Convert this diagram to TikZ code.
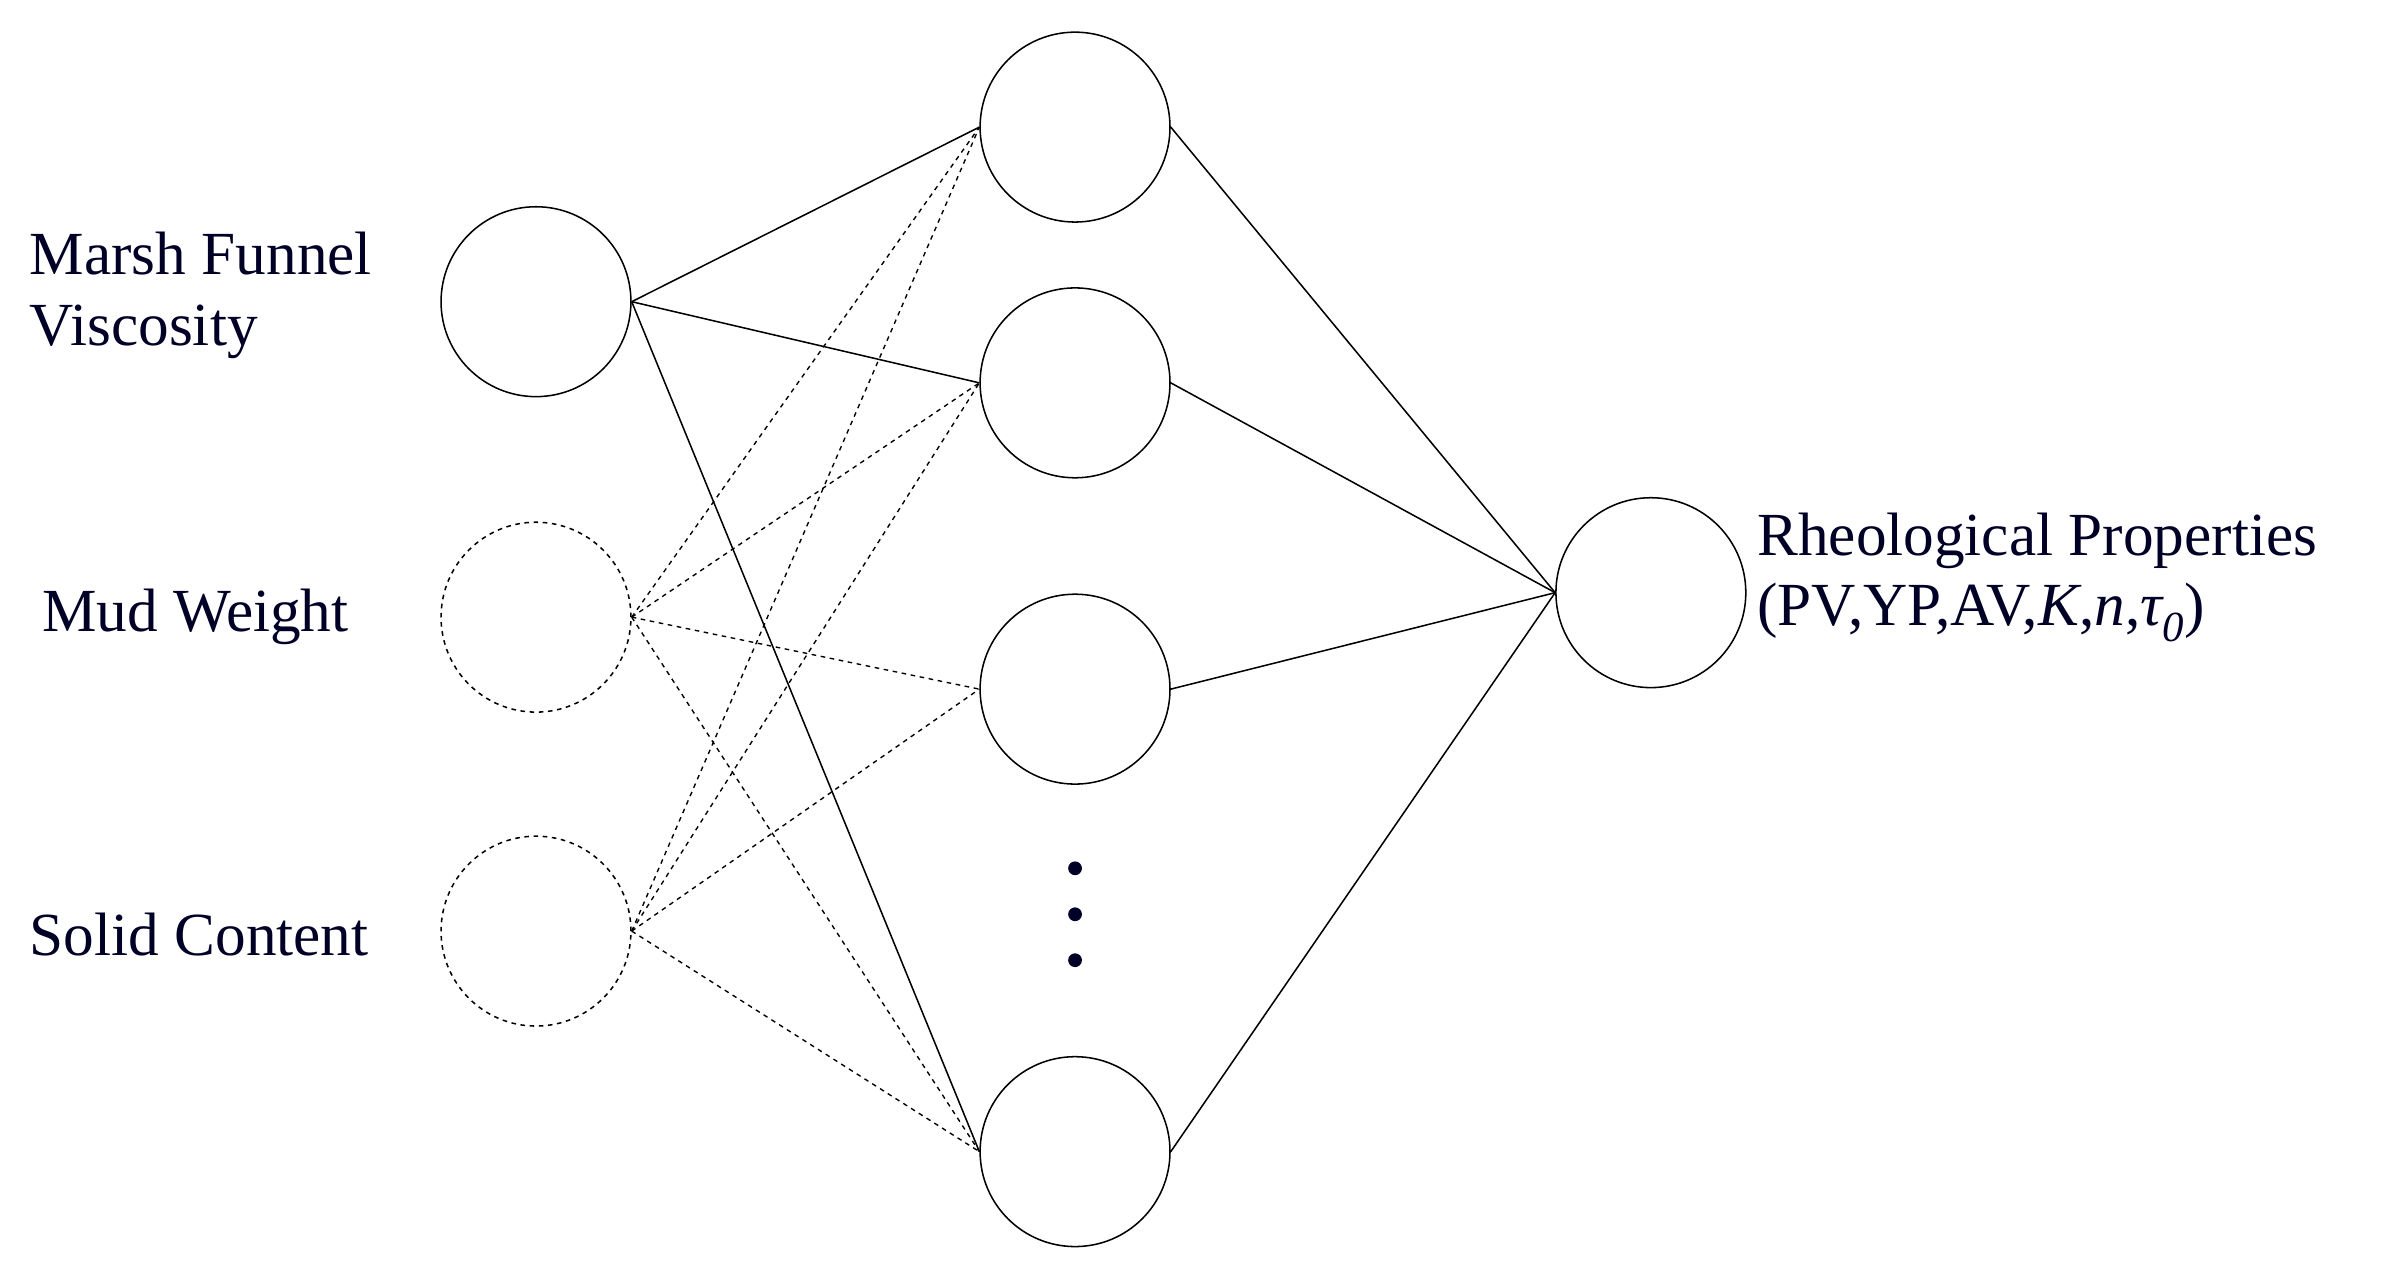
\documentclass[tikz,border=0pt]{standalone}
\usepackage{fontspec}
\setmainfont{Liberation Serif}
\begin{document}
\begin{tikzpicture}[x=1pt,y=-1pt,
  neuron/.style={circle,draw,line width=1pt,minimum size=124pt,inner sep=0pt},
  dneuron/.style={neuron,dashed},
  lbl/.style={font=\fontsize{40}{46}\selectfont,align=left,anchor=west,text=black!85!blue},
  w/.style={line width=1pt},
  dw/.style={line width=0.9pt,dashed}]
\useasboundingbox (0,0) rectangle (1560,835);
\node[neuron] (mf) at (350,197) {};
\node[dneuron] (mw) at (350,403) {};
\node[dneuron] (sc) at (350,608) {};
\node[neuron] (h1) at (702,83) {};
\node[neuron] (h2) at (702,250) {};
\node[neuron] (h3) at (702,450) {};
\node[neuron] (h4) at (702,752) {};
\node[neuron] (o) at (1078,387) {};
\node[lbl] (t1) at (16,193) {Marsh Funnel\\Viscosity};
\node[lbl] (t2) at (24,403) {Mud Weight};
\node[lbl] (t3) at (16,610) {Solid Content};
\node[lbl] (t4) at (1144,377) {Rheological Properties\\(PV,YP,AV,\textit{K},\textit{n},\textit{τ\textsubscript{0}})};
\foreach \h in {h1,h2,h4} \draw[w] (mf.east) -- (\h.west);
\foreach \i in {mw,sc} \foreach \h in {h1,h2,h3,h4} \draw[dw] (\i.east) -- (\h.west);
\foreach \h in {h1,h2,h3,h4} \draw[w] (\h.east) -- (o.west);
\foreach \y [count=\k] in {567,597,627} \node[circle,fill=black!85!blue,inner sep=0pt,minimum size=9pt] (d\k) at (702,\y) {};
\end{tikzpicture}
\end{document}
